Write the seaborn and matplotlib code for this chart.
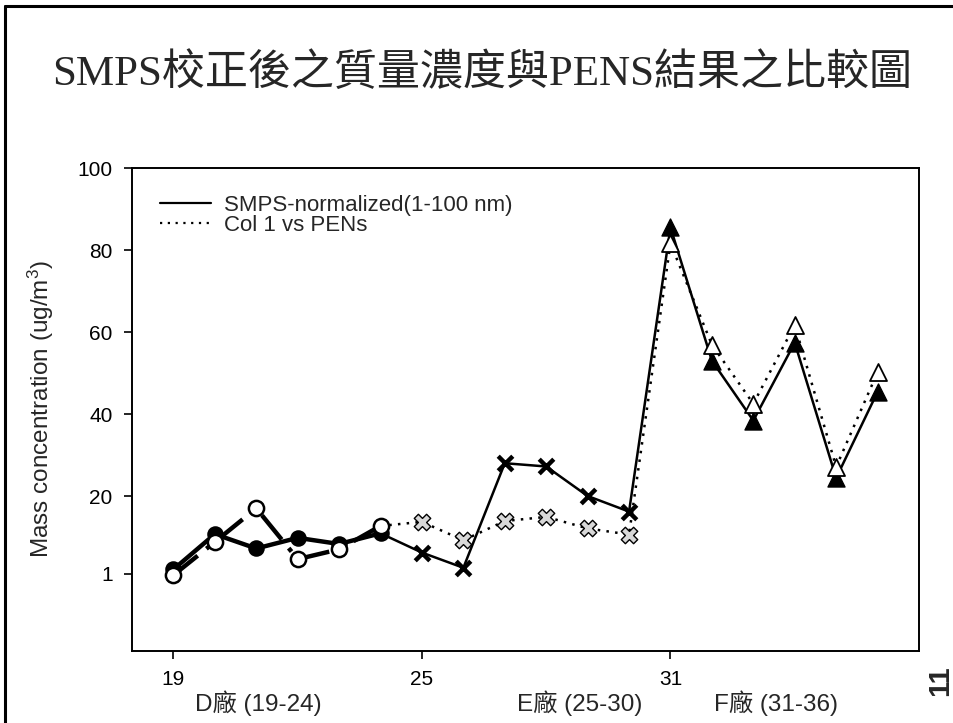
import matplotlib
matplotlib.use("Agg")
import matplotlib.pyplot as plt
import seaborn as sns
import pandas as pd
from matplotlib.lines import Line2D

# ---- data ----
sites = list(range(19, 37))
smps = [2.1, 10.7, 7.2, 9.8, 8.3, 10.9, 6.2, 2.5, 28.0, 27.2, 20.0, 16.2,
        85.5, 53.0, 38.4, 57.4, 24.4, 45.4]
pens = [0.7, 8.8, 17.0, 4.6, 7.0, 12.7, 13.7, 9.2, 13.9, 14.9, 12.1, 10.6,
        81.6, 56.9, 42.5, 61.7, 27.1, 50.2]
ytick_vals = [1, 20, 40, 60, 80, 100]
ytick_labels = ["1", "20", "40", "60", "80", "100"]
xtick_vals = [19, 25, 31]
legend_labels = ["SMPS-normalized(1-100 nm)", "Col 1 vs PENs"]
plant_labels = ["D廠 (19-24)", "E廠 (25-30)", "F廠 (31-36)"]
title = "SMPS校正後之質量濃度與PENS結果之比較圖"
ylabel = "Mass concentration (ug/m$^3$)"

df = pd.DataFrame({"site": sites, "smps": smps, "pens": pens})
dD = df[df.site <= 24]
dE = df[(df.site >= 25) & (df.site <= 30)]
dF = df[df.site >= 31]
dRest = df[df.site >= 24]

sns.set_style("ticks")
plt.rcParams["font.family"] = ["Liberation Sans", "Noto Sans CJK TC"]
plt.rcParams["mathtext.default"] = "regular"

fig = plt.figure(figsize=(9.54, 7.23), dpi=100)
ax = fig.add_axes([132/954, 1-651/723, (919-132)/954, (651-168)/723])

# lines
sns.lineplot(data=dRest, x="site", y="smps", ax=ax, color="black", lw=1.8, zorder=2)
sns.lineplot(data=dRest, x="site", y="pens", ax=ax, color="black", lw=1.8,
             linestyle=(0, (1, 2.5)), zorder=2)
sns.lineplot(data=dD, x="site", y="smps", ax=ax, color="black", lw=3.2, zorder=2)
sns.lineplot(data=dD, x="site", y="pens", ax=ax, color="black", lw=3.2,
             linestyle=(0, (7, 2.5, 1, 2.5)), zorder=2)

# markers
sns.scatterplot(data=dD, x="site", y="smps", ax=ax, marker="o", s=115,
                color="black", edgecolor="black", linewidth=1.2, zorder=3)
sns.scatterplot(data=dD, x="site", y="pens", ax=ax, marker="o", s=120,
                color="white", edgecolor="black", linewidth=1.8, zorder=4)
sns.scatterplot(data=dE, x="site", y="smps", ax=ax, marker="x", s=110,
                color="black", linewidth=3.2, zorder=3)
sns.scatterplot(data=dE, x="site", y="pens", ax=ax, marker="X", s=140,
                color="#d8d8d8", edgecolor="black", linewidth=1.0, zorder=4)
sns.scatterplot(data=dF, x="site", y="smps", ax=ax, marker="^", s=150,
                color="black", edgecolor="black", linewidth=1.0, zorder=3)
sns.scatterplot(data=dF, x="site", y="pens", ax=ax, marker="^", s=150,
                color="white", edgecolor="black", linewidth=1.3, zorder=4)

ax.set_xlim(18, 37)
ax.set_ylim(-17.8, 100)
ax.set_xticks(xtick_vals)
ax.set_xticklabels([str(v) for v in xtick_vals], fontsize=15)
ax.set_yticks(ytick_vals)
ax.set_yticklabels(ytick_labels, fontsize=15)
ax.tick_params(direction="out", length=6, width=1.2, colors="black", pad=8)
for sp in ax.spines.values():
    sp.set_linewidth(1.4)
    sp.set_color("black")
ax.set_xlabel("")
ax.set_ylabel(ylabel, fontsize=17.5)
ax.yaxis.set_label_coords(-0.097, 0.5)

handles = [Line2D([], [], color="black", lw=1.6),
           Line2D([], [], color="black", lw=1.6, linestyle=(0, (1, 2.5)))]
ax.legend(handles, legend_labels, loc="upper left", bbox_to_anchor=(0.01, 0.985),
          frameon=False, fontsize=16, handlelength=2.3, labelspacing=-0.05,
          handletextpad=0.6)

# plant labels
for lab, xc in zip(plant_labels, [258, 580, 776]):
    fig.text(xc/954, 1-703/723, lab, fontsize=17.5, ha="center", va="center")

# title
fig.text(52/954, 1-73/723, title, fontsize=31,
         family=["Liberation Serif", "Noto Sans CJK TC"], ha="left", va="center")

# slide number
fig.text(940/954, 1-681/723, "11", fontsize=21, fontweight="bold",
         rotation=90, ha="center", va="center")

# slide frame
fig.add_artist(Line2D([5/954, 5/954], [0, 1-6/723], transform=fig.transFigure,
                      color="black", lw=2.2))
fig.add_artist(Line2D([5/954, 1], [1-6/723, 1-6/723], transform=fig.transFigure,
                      color="black", lw=2.2))

fig.savefig("out.png", dpi=100)
